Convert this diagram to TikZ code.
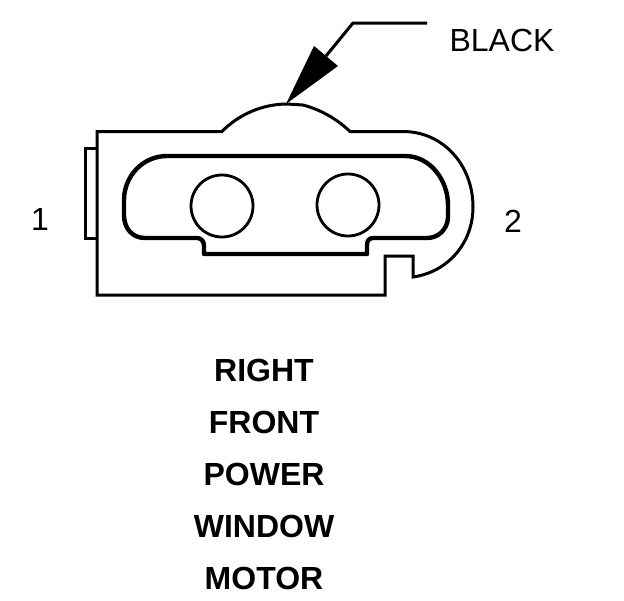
\documentclass[tikz,border=0pt]{standalone}
\usepackage{fontspec}
\setmainfont{Liberation Sans}
\tikzset{
  thinline/.style={line width=3pt,line join=miter},
  thickline/.style={line width=4.4pt,line join=round},
  pin/.style={draw,circle,line width=2.8pt,minimum size=62pt,inner sep=0pt},
  lbl/.style={font=\fontsize{32}{32}\selectfont,inner sep=0pt},
  title/.style={font=\fontsize{32}{32}\selectfont\bfseries,inner sep=0pt}
}
\begin{document}
\begin{tikzpicture}[x=1pt,y=-1pt]
\useasboundingbox (0,0) rectangle (624,600);
% body outline
\draw[thinline] (97,131.5) -- (222,131.5)
  .. controls (238,115) and (262,104) .. (287,104)
  -- (303,105)
  .. controls (322,110) and (338,120) .. (350,131.5)
  -- (403,131.5)
  .. controls (443,131.5) and (473,165) .. (473,207)
  .. controls (473,243) and (448,272) .. (413,277)
  -- (413,256) -- (385,256) -- (385,295) -- (97,295) -- cycle;
% tab
\draw[thinline] (97,148) -- (85,148) -- (85,238) -- (97,238);
% inner cavity
\draw[thickline] (167,156) -- (405,156)
  .. controls (430,156) and (448,180) .. (448,205)
  -- (448,218)
  .. controls (447,230) and (438,238) .. (427,238)
  -- (373,238)
  .. controls (369,238) and (367,241) .. (367,245)
  -- (367,254) -- (204,254) -- (204,246)
  .. controls (204,241) and (201,238) .. (197,238)
  -- (145,238)
  .. controls (132,238) and (124,228) .. (124,215)
  -- (124,200)
  .. controls (124,176) and (143,156) .. (167,156) -- cycle;
% pins
\node[pin] (pinA) at (222,206) {};
\node[pin] (pinB) at (348,205) {};
% leader
\coordinate (tip) at (286,104);
\coordinate (elbow) at (353,23);
\coordinate (leaderEnd) at (427,23);
\draw[line width=3pt] (leaderEnd) -- (elbow) -- (326,56);
\fill (tip) -- (314,46) -- (338,66) -- cycle;
% labels
\node[lbl] (black) at (502,40) {BLACK};
\node[lbl] (one) at (40,219) {1};
\node[lbl] (two) at (513,221) {2};
\node[title] (t1) at (264,370) {RIGHT};
\node[title] (t2) at (264,422) {FRONT};
\node[title] (t3) at (264,474) {POWER};
\node[title] (t4) at (264,526) {WINDOW};
\node[title] (t5) at (264,578) {MOTOR};
\end{tikzpicture}
\end{document}
